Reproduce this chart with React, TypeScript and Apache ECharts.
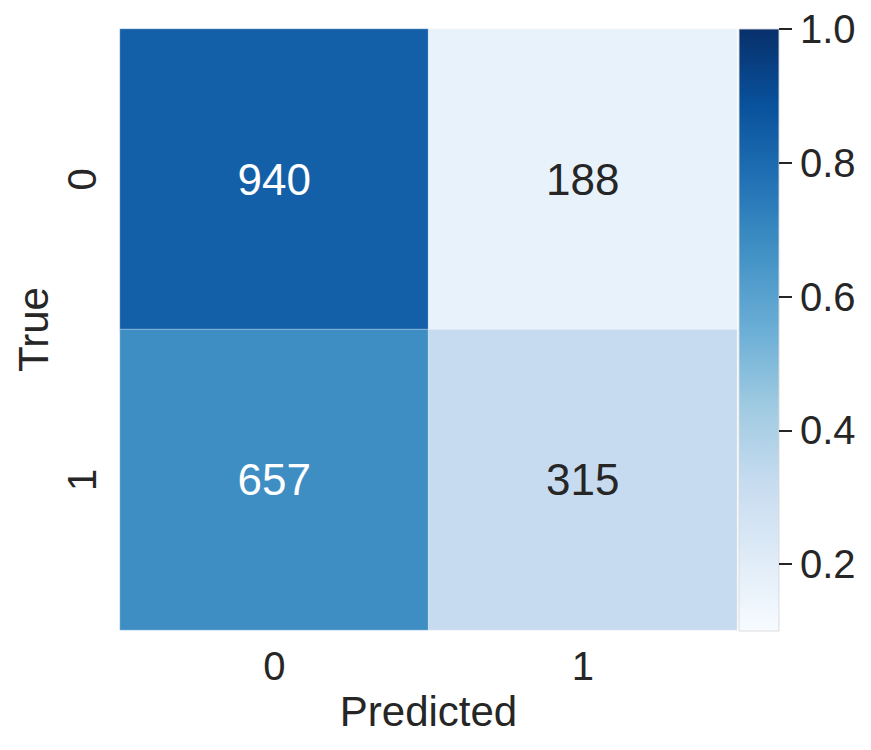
import React, { useEffect, useRef } from "react";
import * as echarts from "echarts";

const predictedLabels = ["0", "1"];
const trueLabels = ["0", "1"];
const counts = [
  [940, 188],
  [657, 315],
];
const colorMin = 0.1;
const colorMax = 1.0;
const colorbarTicks = [0.2, 0.4, 0.6, 0.8, 1.0];
const blues = [
  "#f7fbff",
  "#deebf7",
  "#c6dbef",
  "#9ecae1",
  "#6baed6",
  "#4292c6",
  "#2171b5",
  "#08519c",
  "#08306b",
];

const FONT = "'Liberation Sans', Arial, Helvetica, sans-serif";
const TEXT = "#262626";

export default function App() {
  const ref = useRef<HTMLDivElement>(null);
  useEffect(() => {
    if (!ref.current) return;
    const chart = echarts.init(ref.current, null, { renderer: "svg" });
    const data: any[] = [];
    counts.forEach((row, r) => {
      const total = row.reduce((a, b) => a + b, 0);
      row.forEach((c, col) => {
        const ratio = c / total;
        data.push({
          value: [col, r, ratio, c],
          label: { color: ratio > 0.5 ? "#ffffff" : TEXT },
        });
      });
    });
    const gradStops = blues.map((c, i) => ({ offset: i / (blues.length - 1), color: c }));
    chart.setOption({
      animation: false,
      backgroundColor: "#ffffff",
      textStyle: { fontFamily: FONT, color: TEXT },
      grid: [
        { left: 120, top: 29, width: 617, height: 601, containLabel: false },
        {
          left: 739,
          top: 29,
          width: 40,
          height: 602,
          show: true,
          backgroundColor: {
            type: "linear",
            x: 0,
            y: 1,
            x2: 0,
            y2: 0,
            colorStops: gradStops,
          },
          borderColor: "rgba(215,215,215,0.9)",
          borderWidth: 1,
        },
      ],
      xAxis: [
        {
          type: "category",
          gridIndex: 0,
          data: predictedLabels,
          axisLine: { show: false },
          axisTick: { show: false },
          splitLine: { show: false },
          axisLabel: { fontSize: 40, color: TEXT, fontFamily: FONT, margin: 16 },
          name: "Predicted",
          nameLocation: "middle",
          nameGap: 58,
          nameTextStyle: { fontSize: 42, color: TEXT, fontFamily: FONT },
        },
        {
          type: "value",
          gridIndex: 1,
          show: false,
          min: 0,
          max: 1,
        },
      ],
      yAxis: [
        {
          type: "category",
          gridIndex: 0,
          data: trueLabels,
          inverse: true,
          axisLine: { show: false },
          axisTick: { show: false },
          splitLine: { show: false },
          axisLabel: { fontSize: 40, color: TEXT, fontFamily: FONT, rotate: 90, margin: 18 },
          name: "True",
          nameLocation: "middle",
          nameRotate: 90,
          nameGap: 62,
          nameTextStyle: { fontSize: 42, color: TEXT, fontFamily: FONT },
        },
        {
          type: "value",
          gridIndex: 1,
          min: colorMin,
          max: colorMax,
          position: "right",
          axisLine: { show: false, onZero: false },
          splitLine: { show: false },
          axisTick: {
            show: true,
            inside: false,
            length: 13,
            lineStyle: { color: TEXT, width: 2 },
            customValues: colorbarTicks,
          },
          axisLabel: {
            fontSize: 40,
            color: TEXT,
            fontFamily: FONT,
            margin: 21,
            customValues: colorbarTicks,
            formatter: (v: number) => v.toFixed(1),
          },
        },
      ],
      visualMap: {
        show: false,
        type: "continuous",
        dimension: 2,
        min: colorMin,
        max: colorMax,
        seriesIndex: 0,
        inRange: { color: blues },
      },
      series: [
        {
          type: "heatmap",
          xAxisIndex: 0,
          yAxisIndex: 0,
          data,
          itemStyle: { borderColor: "rgba(255,255,255,0.35)", borderWidth: 1 },
          label: {
            show: true,
            fontSize: 44,
            fontFamily: FONT,
            formatter: (p: any) => String(p.value[3]),
          },
          emphasis: { disabled: true },
        },
      ],
    });
    return () => chart.dispose();
  }, []);
  return (
    <div
      ref={ref}
      style={{ position: "absolute", left: 0, top: 0, width: 871, height: 750 }}
    />
  );
}
